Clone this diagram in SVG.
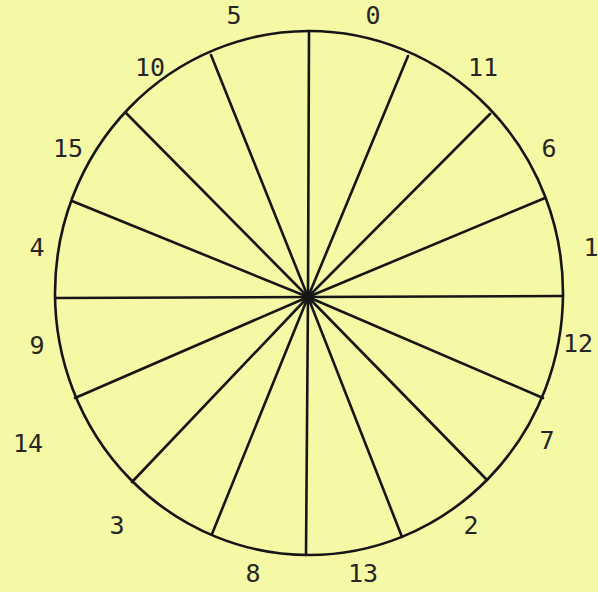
<svg xmlns="http://www.w3.org/2000/svg" width="598" height="592" viewBox="0 0 598 592">
<style>
.bg{fill:#f5f8a4}
.rim{fill:none;stroke:#161616;stroke-width:2.6}
.ray{stroke:#161616;stroke-width:2.6;stroke-linecap:round}
.lbl{font-family:"DejaVu Sans Mono","Liberation Mono",monospace;font-size:25px;fill:#262626;text-anchor:middle}
</style>
<rect class="bg" x="0" y="0" width="598" height="592"/>
<g id="circle">
<ellipse class="rim" cx="309" cy="293" rx="254" ry="262"/>
</g>
<g id="connectors">
<line class="ray" x1="308" y1="297" x2="309" y2="31"/>
<line class="ray" x1="308" y1="297" x2="408" y2="56"/>
<line class="ray" x1="308" y1="297" x2="490" y2="114"/>
<line class="ray" x1="308" y1="297" x2="545" y2="198"/>
<line class="ray" x1="308" y1="297" x2="563" y2="296"/>
<line class="ray" x1="308" y1="297" x2="543" y2="398"/>
<line class="ray" x1="308" y1="297" x2="487" y2="480"/>
<line class="ray" x1="308" y1="297" x2="402" y2="537"/>
<line class="ray" x1="308" y1="297" x2="306" y2="555"/>
<line class="ray" x1="308" y1="297" x2="212" y2="534"/>
<line class="ray" x1="308" y1="297" x2="132" y2="482"/>
<line class="ray" x1="308" y1="297" x2="75" y2="398"/>
<line class="ray" x1="308" y1="297" x2="55" y2="298"/>
<line class="ray" x1="308" y1="297" x2="72" y2="201"/>
<line class="ray" x1="308" y1="297" x2="126" y2="113"/>
<line class="ray" x1="308" y1="297" x2="211" y2="55"/>
</g>
<g id="labels">
<text id="l0" class="lbl" x="373" y="24">0</text>
<text id="l11" class="lbl" x="483" y="76">11</text>
<text id="l6" class="lbl" x="549" y="157">6</text>
<text id="l1" class="lbl" x="591" y="256">1</text>
<text id="l12" class="lbl" x="578" y="352">12</text>
<text id="l7" class="lbl" x="547" y="449">7</text>
<text id="l2" class="lbl" x="471" y="534">2</text>
<text id="l13" class="lbl" x="363" y="582">13</text>
<text id="l8" class="lbl" x="253" y="582">8</text>
<text id="l3" class="lbl" x="117" y="534">3</text>
<text id="l14" class="lbl" x="28" y="452">14</text>
<text id="l9" class="lbl" x="37" y="354">9</text>
<text id="l4" class="lbl" x="37" y="256">4</text>
<text id="l15" class="lbl" x="68" y="157">15</text>
<text id="l10" class="lbl" x="150" y="76">10</text>
<text id="l5" class="lbl" x="234" y="24">5</text>
</g>
</svg>
